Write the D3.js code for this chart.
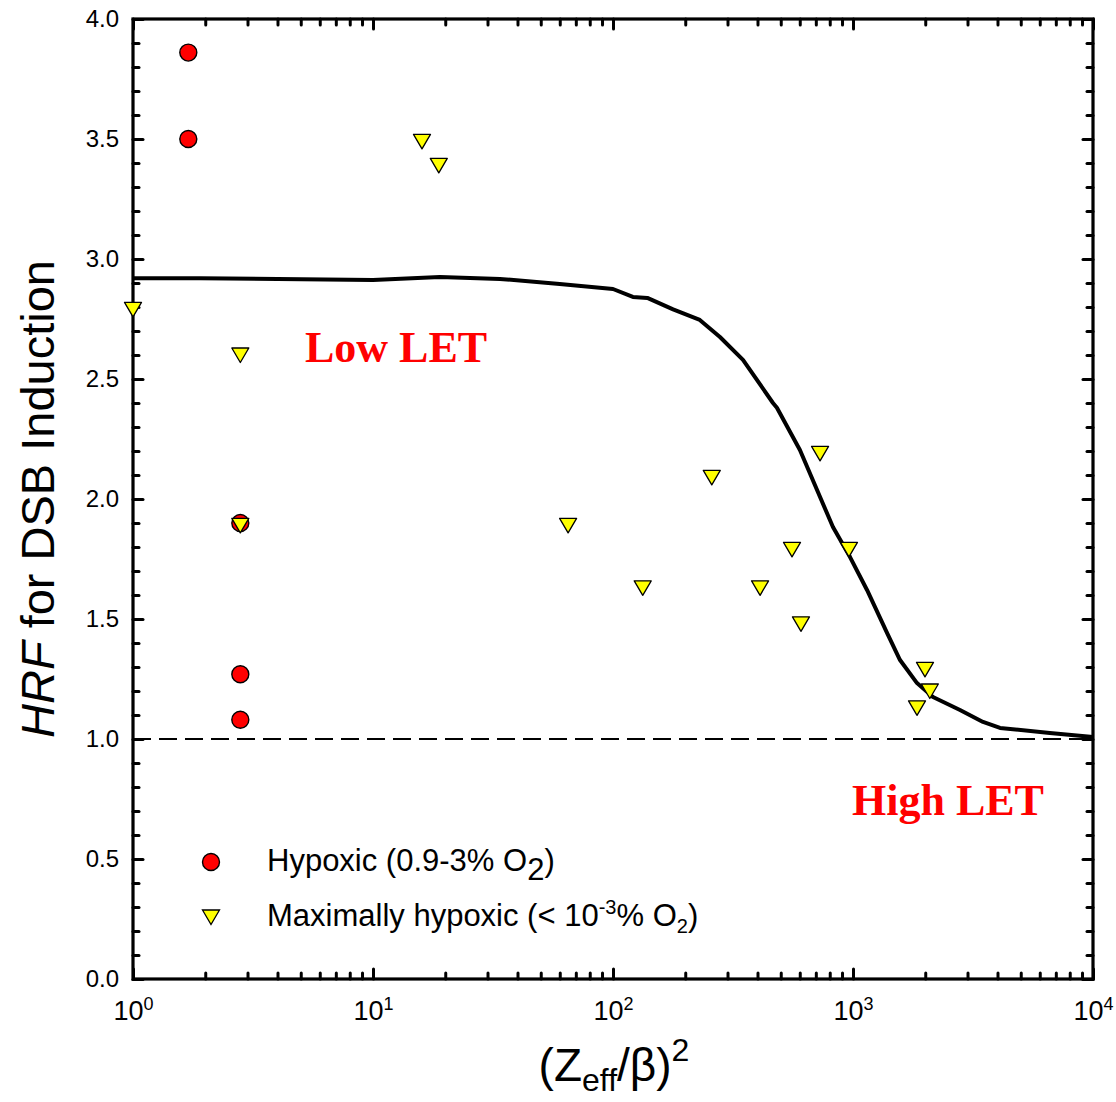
<!DOCTYPE html>
<html><head><meta charset="utf-8">
<script src="https://cdn.jsdelivr.net/npm/d3@7"></script>
<style>body{margin:0;background:#fff}</style>
</head><body>
<svg id="chart" width="1116" height="1102"></svg>
<script>
// ---- data ----
const hypoxicX = [1.7, 1.7, 2.8, 2.8, 2.8];
const hypoxicY = [3.86, 3.5, 1.9, 1.27, 1.08];

const maxHypoxicX = [1, 16, 18.8, 2.8, 2.8, 65, 133, 258, 410, 557, 607, 729, 962, 1848, 1995, 2090];
const maxHypoxicY = [2.79, 3.49, 3.39, 2.6, 1.89, 1.89, 1.63, 2.09, 1.63, 1.79, 1.48, 2.19, 1.79, 1.13, 1.29, 1.2];

const curveX = [1, 1.9, 10, 19, 33.8, 60, 88, 100, 121, 139, 178, 230, 279, 348, 464, 482, 601, 825, 972, 1144, 1386, 1570, 1848, 2154, 2791, 3481, 4098, 6610, 10000];
const curveY = [2.92, 2.92, 2.912, 2.925, 2.917, 2.896, 2.88, 2.875, 2.842, 2.838, 2.79, 2.746, 2.675, 2.58, 2.4, 2.38, 2.204, 1.883, 1.758, 1.621, 1.442, 1.329, 1.233, 1.175, 1.121, 1.071, 1.046, 1.025, 1.008];

const refLineY = 1.0;
const xMajorTicks = [1, 10, 100, 1000, 10000];
const yMajorTicks = [0, 0.5, 1.0, 1.5, 2.0, 2.5, 3.0, 3.5, 4.0];
const yMinorTicks = d3.range(0, 4.0001, 0.1).map(v => +v.toFixed(1));
const legendLabels = ["Hypoxic (0.9-3% O", "Maximally hypoxic (< 10"];

// ---- layout ----
const W = 960, H = 960, L = 133, T = 19;
const svg = d3.select("#chart");
const g = svg.append("g").attr("transform", `translate(${L},${T})`);
const x = d3.scaleLog().domain([1, 1e4]).range([0, W]);
const y = d3.scaleLinear().domain([0, 4]).range([H, 0]);
const xMinorTicks = x.ticks().filter(v => !xMajorTicks.includes(v));
const yMinor = yMinorTicks.filter(v => !yMajorTicks.some(m => Math.abs(m - v) < 1e-6));
const font = "Liberation Sans, Arial, Helvetica, sans-serif";

function styleAxis(sel) {
  sel.select(".domain").remove();
  sel.selectAll(".tick line").attr("stroke", "#000").attr("stroke-width", 3).attr("stroke-linecap", "round");
}

// bottom
const gb = g.append("g").attr("transform", `translate(0,${H})`);
gb.append("g").call(d3.axisBottom(x).tickValues(xMinorTicks).tickSize(-6).tickFormat("")).call(styleAxis);
const gbM = gb.append("g").call(d3.axisBottom(x).tickValues(xMajorTicks).tickSize(-10).tickPadding(22).tickFormat(() => "")).call(styleAxis);
gbM.selectAll(".tick text").attr("font-family", font).attr("font-size", 27).attr("fill", "#000")
  .each(function(d) {
    const t = d3.select(this);
    t.text("10");
    t.append("tspan").attr("dy", "-0.55em").attr("font-size", 18).text(Math.round(Math.log10(d)));
  });
// top
const gt = g.append("g");
gt.append("g").call(d3.axisTop(x).tickValues(xMinorTicks).tickSize(-6).tickFormat("")).call(styleAxis);
gt.append("g").call(d3.axisTop(x).tickValues(xMajorTicks).tickSize(-10).tickFormat("")).call(styleAxis);
// left
const gl = g.append("g");
gl.append("g").call(d3.axisLeft(y).tickValues(yMinor).tickSize(-6).tickFormat("")).call(styleAxis);
const glM = gl.append("g").call(d3.axisLeft(y).tickValues(yMajorTicks).tickSize(-10).tickPadding(14).tickFormat(d3.format(".1f"))).call(styleAxis);
glM.selectAll(".tick text").attr("font-family", font).attr("font-size", 24).attr("fill", "#000");
// right
const gr = g.append("g").attr("transform", `translate(${W},0)`);
gr.append("g").call(d3.axisRight(y).tickValues(yMinor).tickSize(-6).tickFormat("")).call(styleAxis);
gr.append("g").call(d3.axisRight(y).tickValues(yMajorTicks).tickSize(-10).tickFormat("")).call(styleAxis);

// frame
g.append("rect").attr("x", 0).attr("y", 0).attr("width", W).attr("height", H)
  .attr("fill", "none").attr("stroke", "#000").attr("stroke-width", 3.2);

// reference dashed line
g.append("line").attr("x1", x(1)).attr("x2", x(1e4)).attr("y1", y(refLineY)).attr("y2", y(refLineY))
  .attr("stroke", "#000").attr("stroke-width", 2.2).attr("stroke-dasharray", "18,8");

// curve
const curveData = curveX.map((v, i) => [v, curveY[i]]);
g.append("path").datum(curveData)
  .attr("d", d3.line().x(d => x(d[0])).y(d => y(d[1])))
  .attr("fill", "none").attr("stroke", "#000").attr("stroke-width", 4).attr("stroke-linejoin", "round");

// markers
const triPath = "M-8.5,-7L8.5,-7L0,7.5Z";
g.selectAll("circle.hyp").data(hypoxicX.map((v, i) => [v, hypoxicY[i]])).join("circle")
  .attr("class", "hyp").attr("cx", d => x(d[0])).attr("cy", d => y(d[1])).attr("r", 8.5)
  .attr("fill", "#ff0000").attr("stroke", "#000").attr("stroke-width", 1.4);
g.selectAll("path.maxh").data(maxHypoxicX.map((v, i) => [v, maxHypoxicY[i]])).join("path")
  .attr("class", "maxh").attr("d", triPath)
  .attr("transform", d => `translate(${x(d[0])},${y(d[1])})`)
  .attr("fill", "#ffff00").attr("stroke", "#000").attr("stroke-width", 1.3).attr("stroke-linejoin", "round");

// annotations
svg.append("text").attr("x", 305).attr("y", 362).attr("font-family", "Liberation Serif, Times New Roman, serif")
  .attr("font-weight", "bold").attr("font-size", 44).attr("fill", "#ff0000").text("Low LET");
svg.append("text").attr("x", 852).attr("y", 815).attr("font-family", "Liberation Serif, Times New Roman, serif")
  .attr("font-weight", "bold").attr("font-size", 44).attr("fill", "#ff0000").text("High LET");

// legend
svg.append("circle").attr("cx", 211).attr("cy", 862).attr("r", 8.5)
  .attr("fill", "#ff0000").attr("stroke", "#000").attr("stroke-width", 1.4);
svg.append("path").attr("d", triPath).attr("transform", "translate(211,917)")
  .attr("fill", "#ffff00").attr("stroke", "#000").attr("stroke-width", 1.3);
const l1 = svg.append("text").attr("x", 267).attr("y", 871).attr("font-family", font).attr("font-size", 31).attr("fill", "#000");
l1.append("tspan").text(legendLabels[0]);
l1.append("tspan").attr("dy", 9).text("2");
l1.append("tspan").attr("dy", -9).text(")");
const l2 = svg.append("text").attr("x", 267).attr("y", 926).attr("font-family", font).attr("font-size", 31).attr("fill", "#000");
l2.append("tspan").text(legendLabels[1]);
l2.append("tspan").attr("dy", -12).attr("font-size", 20).text("-3");
l2.append("tspan").attr("dy", 12).text("% O");
l2.append("tspan").attr("dy", 7).attr("font-size", 20).text("2");
l2.append("tspan").attr("dy", -7).text(")");

// axis titles
const yt = svg.append("text").attr("transform", "translate(54,499) rotate(-90)").attr("text-anchor", "middle")
  .attr("font-family", font).attr("font-size", 47).attr("fill", "#000");
yt.append("tspan").attr("font-style", "italic").text("HRF");
yt.append("tspan").text(" for DSB Induction");

const xt = svg.append("text").attr("x", 614).attr("y", 1081).attr("text-anchor", "middle")
  .attr("font-family", font).attr("font-size", 46).attr("fill", "#000");
xt.append("tspan").text("(Z");
xt.append("tspan").attr("dy", 10).attr("font-size", 32).text("eff");
xt.append("tspan").attr("dy", -10).text("/β)");
xt.append("tspan").attr("dy", -20).attr("font-size", 32).text("2");
</script>
</body></html>
